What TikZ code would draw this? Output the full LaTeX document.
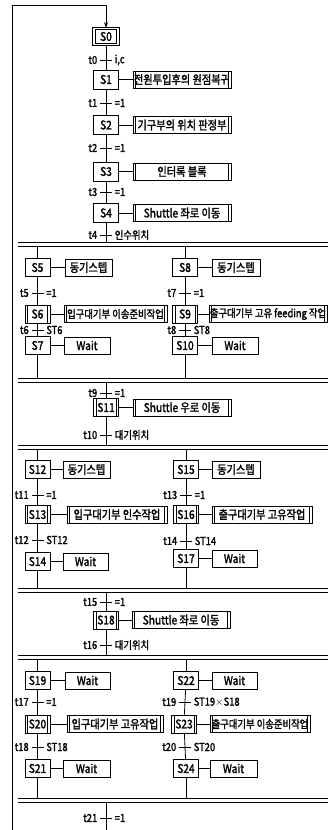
\documentclass[tikz,border=0pt]{standalone}
\usepackage{fontspec}
\setmainfont{Noto Sans CJK KR}[FakeStretch=0.85,FakeBold=1.8]
\usetikzlibrary{arrows.meta}
\begin{document}
\begin{tikzpicture}[x=1pt,y=-1pt,
  line width=0.8pt,
  stepbox/.style={draw, minimum width=25pt, minimum height=18pt, inner sep=0pt, font=\fontsize{12}{13}\selectfont},
  initbox/.style={stepbox, double, double distance=1.6pt, line width=0.9pt, minimum width=24pt, minimum height=16pt},
  actbox/.style={draw, minimum height=17pt, inner sep=0pt, font=\fontsize{12}{13}\selectfont},
  small/.style={font=\fontsize{11}{12}\selectfont},
  dside/.style={path picture={
     \draw[line width=0.6pt] ([xshift=2.5pt]path picture bounding box.south west) -- ([xshift=2.5pt]path picture bounding box.north west);
     \draw[line width=0.6pt] ([xshift=-2.5pt]path picture bounding box.south east) -- ([xshift=-2.5pt]path picture bounding box.north east);}},
  tbar/.style={fill, minimum width=12pt, minimum height=1pt, inner sep=0pt},
  tlab/.style={font=\fontsize{11}{12}\selectfont, inner sep=0pt, anchor=east, xshift=-2pt},
  clab/.style={font=\fontsize{11}{12}\selectfont, inner sep=0pt, anchor=west, xshift=2pt},
  sync/.style={line width=0.7pt},
  syncb/.style={line width=1.2pt},
  flow/.style={line width=0.8pt}
]
\useasboundingbox (0,0) rectangle (328,830);

% ---------- main column, steps S0-S4 ----------
\node[initbox] (S0) at (106,36.5) {S0};
\node[stepbox, minimum height=19pt] (S1) at (106,79.5) {S1};
\node[stepbox, minimum height=19pt] (S2) at (106,125) {S2};
\node[stepbox, minimum height=19pt] (S3) at (106,171.5) {S3};
\node[stepbox, minimum height=19pt] (S4) at (106,213) {S4};

\node[actbox, dside, minimum width=98pt] (A1) at (182,79.5) {전원투입후의 원점복귀};
\node[actbox, dside, minimum width=98pt] (A2) at (182,125) {기구부의 위치 판정부};
\node[actbox, dside, minimum width=98pt] (A3) at (182,171.5) {인터록 블록};
\node[actbox, dside, minimum width=98pt] (A4) at (182,213) {Shuttle 좌로 이동};

\node[tbar] (t0) at (106,60) {};
\node[tbar] (t1) at (106,103) {};
\node[tbar] (t2) at (106,148) {};
\node[tbar] (t3) at (106,192) {};
\node[tbar] (t4) at (106,235) {};
\node[tlab] at (t0.west) {t0}; \node[clab] at (t0.east) {i,c};
\node[tlab] at (t1.west) {t1}; \node[clab] at (t1.east) {=1};
\node[tlab] at (t2.west) {t2}; \node[clab] at (t2.east) {=1};
\node[tlab] at (t3.west) {t3}; \node[clab] at (t3.east) {=1};
\node[tlab] at (t4.west) {t4}; \node[clab] at (t4.east) {인수위치};

\draw[flow] (S0) -- (S1);
\draw[flow] (S1) -- (S2);
\draw[flow] (S2) -- (S3);
\draw[flow] (S3) -- (S4);
\foreach \s in {1,2,3,4} \draw[flow] (S\s) -- (A\s);

% ---------- double (sync) lines ----------
\coordinate (D1) at (18,242);  \coordinate (E1) at (18,246.5);
\coordinate (D2) at (18,378);  \coordinate (E2) at (18,382.5);
\coordinate (D3) at (18,445);  \coordinate (E3) at (18,449.5);
\coordinate (D4) at (18,588);  \coordinate (E4) at (18,592.5);
\coordinate (D5) at (18,655);  \coordinate (E5) at (18,659.5);
\coordinate (D6) at (18,798);  \coordinate (E6) at (18,802.5);
\coordinate (R) at (328,0);
\foreach \k in {1,...,6} {
  \draw[sync] (D\k) -- (R |- D\k);
  \draw[syncb] (E\k) -- (R |- E\k);
}

\draw[flow] (S4) -- (S4 |- D1);

% ---------- first parallel section ----------
\node[stepbox] (S5) at (37.5,267.5) {S5};
\node[stepbox, dside] (S6) at (37.5,314) {S6};
\node[stepbox] (S7) at (37.5,345.5) {S7};
\node[stepbox] (S8) at (185,267.5) {S8};
\node[stepbox, dside] (S9) at (185,314) {S9};
\node[stepbox] (S10) at (185,345.5) {S10};

\node[actbox, minimum width=47pt] (A5) at (88.5,267.5) {동기스텝};
\node[actbox, dside, small, minimum width=103pt] (A6) at (115.5,314) {입구대기부 이송준비작업};
\node[actbox, minimum width=46pt] (A7) at (87,345.5) {Wait};
\node[actbox, minimum width=48pt] (A8) at (236,267.5) {동기스텝};
\node[actbox, dside, small, minimum width=118pt] (A9) at (268,314) {출구대기부 고유 feeding 작업};
\node[actbox, minimum width=46pt] (A10) at (235,345.5) {Wait};

\node[tbar] (t5) at (37.5,293) {};
\node[tbar] (t6) at (37.5,330) {};
\node[tbar] (t7) at (185,293) {};
\node[tbar] (t8) at (185,330) {};
\node[tlab] at (t5.west) {t5}; \node[clab] at (t5.east) {=1};
\node[tlab] at (t6.west) {t6}; \node[clab] at (t6.east) {ST6};
\node[tlab] at (t7.west) {t7}; \node[clab] at (t7.east) {=1};
\node[tlab] at (t8.west) {t8}; \node[clab] at (t8.east) {ST8};

\draw[flow] (S5 |- E1) -- (S5);
\draw[flow] (S8 |- E1) -- (S8);
\draw[flow] (S5) -- (S6);  \draw[flow] (S6) -- (S7);
\draw[flow] (S8) -- (S9);  \draw[flow] (S9) -- (S10);
\draw[flow] (S7) -- (S7 |- D2);
\draw[flow] (S10) -- (S10 |- D2);
\foreach \s in {5,...,10} \draw[flow] (S\s) -- (A\s);

% ---------- S11 ----------
\node[stepbox, dside] (S11) at (106,407.5) {S11};
\node[actbox, dside, minimum width=98pt] (A11) at (182,407.5) {Shuttle 우로 이동};
\node[tbar] (t9) at (106,393) {};
\node[tbar] (t10) at (106,435) {};
\node[tlab] at (t9.west) {t9}; \node[clab] at (t9.east) {=1};
\node[tlab] at (t10.west) {t10}; \node[clab] at (t10.east) {대기위치};
\draw[flow] (S11 |- E2) -- (S11);
\draw[flow] (S11) -- (S11 |- D3);
\draw[flow] (S11) -- (A11);

% ---------- second parallel section ----------
\node[stepbox] (S12) at (37.5,469.5) {S12};
\node[stepbox, dside] (S13) at (37.5,514.5) {S13};
\node[stepbox] (S14) at (37.5,561.5) {S14};
\node[stepbox] (S15) at (186,469.5) {S15};
\node[stepbox, dside] (S16) at (186,514.5) {S16};
\node[stepbox] (S17) at (186,558.5) {S17};

\node[actbox, minimum width=47pt] (A12) at (86.5,469.5) {동기스텝};
\node[actbox, dside, minimum width=100pt] (A13) at (117,514.5) {입구대기부 인수작업};
\node[actbox, minimum width=45pt] (A14) at (85.5,561.5) {Wait};
\node[actbox, minimum width=48pt] (A15) at (236,469.5) {동기스텝};
\node[actbox, dside, minimum width=100pt] (A16) at (262,514.5) {출구대기부 고유작업};
\node[actbox, minimum width=45pt] (A17) at (234.5,558.5) {Wait};

\node[tbar] (t11) at (37.5,495) {};
\node[tbar] (t12) at (37.5,540) {};
\node[tbar] (t13) at (186,495) {};
\node[tbar] (t14) at (186,541) {};
\node[tlab] at (t11.west) {t11}; \node[clab] at (t11.east) {=1};
\node[tlab] at (t12.west) {t12}; \node[clab] at (t12.east) {ST12};
\node[tlab] at (t13.west) {t13}; \node[clab] at (t13.east) {=1};
\node[tlab] at (t14.west) {t14}; \node[clab] at (t14.east) {ST14};

\draw[flow] (S12 |- E3) -- (S12);
\draw[flow] (S15 |- E3) -- (S15);
\draw[flow] (S12) -- (S13);  \draw[flow] (S13) -- (S14);
\draw[flow] (S15) -- (S16);  \draw[flow] (S16) -- (S17);
\draw[flow] (S14) -- (S14 |- D4);
\draw[flow] (S17) -- (S17 |- D4);
\foreach \s in {12,...,17} \draw[flow] (S\s) -- (A\s);

% ---------- S18 ----------
\node[stepbox, dside] (S18) at (106,620) {S18};
\node[actbox, dside, minimum width=98pt] (A18) at (181,620) {Shuttle 좌로 이동};
\node[tbar] (t15) at (106,602) {};
\node[tbar] (t16) at (106,645) {};
\node[tlab] at (t15.west) {t15}; \node[clab] at (t15.east) {=1};
\node[tlab] at (t16.west) {t16}; \node[clab] at (t16.east) {대기위치};
\draw[flow] (S18 |- E4) -- (S18);
\draw[flow] (S18) -- (S18 |- D5);
\draw[flow] (S18) -- (A18);

% ---------- third parallel section ----------
\node[stepbox] (S19) at (37.5,680.5) {S19};
\node[stepbox, dside] (S20) at (37.5,724) {S20};
\node[stepbox] (S21) at (37.5,768.5) {S21};
\node[stepbox] (S22) at (186,680.5) {S22};
\node[stepbox, dside] (S23) at (184,724) {S23};
\node[stepbox] (S24) at (186,768.5) {S24};

\node[actbox, minimum width=45pt] (A19) at (87.5,680.5) {Wait};
\node[actbox, dside, minimum width=96pt] (A20) at (115,724) {입구대기부 고유작업};
\node[actbox, minimum width=47pt] (A21) at (86.5,768.5) {Wait};
\node[actbox, minimum width=45pt] (A22) at (234.5,680.5) {Wait};
\node[actbox, dside, small, minimum width=100pt] (A23) at (260,724) {출구대기부 이송준비작업};
\node[actbox, minimum width=47pt] (A24) at (233.5,768.5) {Wait};

\node[tbar] (t17) at (37.5,702) {};
\node[tbar] (t18) at (37.5,747) {};
\node[tbar] (t19) at (185,702) {};
\node[tbar] (t20) at (185,747) {};
\node[tlab] at (t17.west) {t17}; \node[clab] at (t17.east) {=1};
\node[tlab] at (t18.west) {t18}; \node[clab] at (t18.east) {ST18};
\node[tlab] at (t19.west) {t19}; \node[clab] at (t19.east) {ST19$\times$S18};
\node[tlab] at (t20.west) {t20}; \node[clab] at (t20.east) {ST20};

\draw[flow] (S19 |- E5) -- (S19);
\draw[flow] (S22 |- E5) -- (S22);
\draw[flow] (S19) -- (S20);  \draw[flow] (S20) -- (S21);
\draw[flow] (S22) -- (t19.center) -- (S23);  \draw[flow] (S23) -- (t20.center) -- (S24);
\draw[flow] (S21) -- (S21 |- D6);
\draw[flow] (S24) -- (S24 |- D6);
\foreach \s in {19,...,24} \draw[flow] (S\s) -- (A\s);

% ---------- end and loop back ----------
\coordinate (END) at (106,830);
\node[tbar] (t21) at (106,818) {};
\node[tlab] at (t21.west) {t21}; \node[clab] at (t21.east) {=1};
\draw[flow] (END |- E6) -- (END);

\coordinate (L0) at (12,830);
\coordinate (L1) at (12,5);
\draw[flow, -{Stealth[length=6pt,width=4pt]}] (L0) -- (L1) -| (S0.north);
\end{tikzpicture}
\end{document}
